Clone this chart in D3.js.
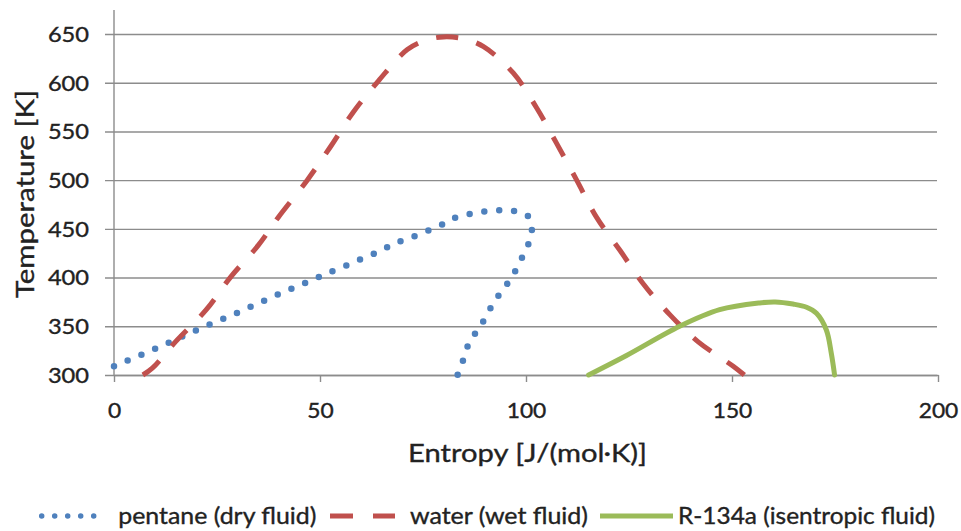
<!DOCTYPE html>
<html>
<head>
<meta charset="utf-8">
<script src="https://cdn.jsdelivr.net/npm/d3@7/dist/d3.min.js"></script>
<style>
  html, body { margin: 0; padding: 0; background: #ffffff; }
  svg { display: block; }
  text { font-family: Lato, "Open Sans", sans-serif; fill: #222222; stroke: #222222; stroke-width: 0.35px; }
</style>
</head>
<body>
<svg id="chart" width="961" height="531"></svg>
<script>
// Saturation domes in the T–s plane: entropy [J/(mol·K)] vs temperature [K]
const pentane = [
  [0, 309], [10, 327], [20, 346], [30, 364], [40, 383], [50, 401], [60, 419],
  [65, 428], [68, 435], [71.5, 440], [75, 446], [79, 453], [82, 460], [86, 465],
  [90, 468], [94, 469], [97.5, 468], [100.5, 463], [101.4, 452], [101.1, 440],
  [100.1, 430], [98.4, 415], [96.5, 400], [94.3, 387], [92.1, 374], [90.2, 359],
  [88.2, 346], [86.1, 332], [84.8, 316], [83.4, 300]
];
const water = [
  [7, 300], [9.3, 307], [14.9, 334], [22.4, 367], [28.2, 400], [35, 433],
  [39.9, 462], [46.9, 500], [52.5, 534], [58.1, 570], [64.2, 602], [71.2, 634],
  [76, 644], [80, 647], [85, 645], [89.7, 637], [96.9, 610], [102.6, 574],
  [107.4, 538], [112.3, 500], [117.1, 462], [122.8, 428], [128.4, 394],
  [134.9, 362], [141.8, 334], [150.3, 309], [153, 300]
];
const r134a = [
  [115.2, 300], [124.4, 320], [137.3, 350], [147, 367], [156.7, 374],
  [160.5, 375], [164.8, 372.8], [168.1, 369.5], [170.5, 363.3], [172.9, 346.2],
  [174.1, 322.3], [174.9, 300]
];
const xTicks = [0, 50, 100, 150, 200];
const yTicks = [300, 350, 400, 450, 500, 550, 600, 650];
const seriesNames = ["pentane (dry fluid)", "water (wet fluid)", "R-134a (isentropic fluid)"];
const xTitle = "Entropy [J/(mol·K)]";
const yTitle = "Temperature [K]";

const svg = d3.select("#chart");
const x = d3.scaleLinear().domain([0, 200]).range([114, 938]);
const y = d3.scaleLinear().domain([300, 650]).range([375, 34]);

const gridColor = "#8c8c8c";

// horizontal gridlines with outward tick stubs, labels on the left
const yAxis = svg.append("g")
  .attr("transform", "translate(105,0)")
  .call(d3.axisLeft(y).tickValues(yTicks).tickSize(-(937 - 105)).tickPadding(16).tickFormat(d3.format("d")));
yAxis.select(".domain").remove();
yAxis.selectAll(".tick line").attr("stroke", gridColor).attr("stroke-width", 1.4);
yAxis.selectAll(".tick text")
  .attr("font-size", 20.5).attr("font-family", "Lato")
  .attr("fill", "#222222")
  .attr("textLength", d => String(d).length * 13.7)
  .attr("lengthAdjust", "spacingAndGlyphs")
  .attr("dy", "0.36em");

// vertical axis line
svg.append("line")
  .attr("x1", x(0)).attr("x2", x(0))
  .attr("y1", 10).attr("y2", y(300))
  .attr("stroke", gridColor).attr("stroke-width", 1.4);

// bottom axis
const xAxis = svg.append("g")
  .attr("transform", `translate(0,${y(300)})`)
  .call(d3.axisBottom(x).tickValues(xTicks).tickSize(7).tickSizeOuter(0).tickFormat(d3.format("d")));
xAxis.select(".domain").attr("stroke", gridColor).attr("stroke-width", 1.4);
xAxis.selectAll(".tick line").attr("stroke", gridColor).attr("stroke-width", 1.4);
xAxis.selectAll(".tick text")
  .attr("font-size", 20.5).attr("font-family", "Lato")
  .attr("fill", "#222222")
  .attr("y", 43).attr("dy", 0)
  .attr("textLength", d => String(d).length * 13.2)
  .attr("lengthAdjust", "spacingAndGlyphs");

// axis titles
svg.append("text")
  .attr("x", 527.5).attr("y", 462)
  .attr("text-anchor", "middle")
  .attr("font-size", 25)
  .attr("textLength", 239).attr("lengthAdjust", "spacingAndGlyphs")
  .text(xTitle);

svg.append("text")
  .attr("transform", "translate(34,194) rotate(-90)")
  .attr("text-anchor", "middle")
  .attr("font-size", 25)
  .attr("textLength", 208).attr("lengthAdjust", "spacingAndGlyphs")
  .text(yTitle);

// series
const line = d3.line()
  .x(d => x(d[0])).y(d => y(d[1]))
  .curve(d3.curveCatmullRom.alpha(0.5));

const styles = [
  { color: "#4f81bd", width: 6.5, cap: "round" },
  { color: "#c0504d", width: 5, cap: "butt" },
  { color: "#9bbb59", width: 5, cap: "round" }
];
const data = [pentane, water, r134a];

data.forEach((d, i) => {
  const s = styles[i];
  const p = svg.append("path")
    .datum(d)
    .attr("d", line)
    .attr("fill", "none")
    .attr("stroke", s.color)
    .attr("stroke-width", s.width)
    .attr("stroke-linecap", s.cap)
    .attr("stroke-linejoin", "round");
  const len = p.node().getTotalLength();
  if (i === 0) {
    // evenly spaced round dots, one at each end of the curve
    const n = Math.round(len / 14.8);
    const period = (len - 0.5) / n;
    p.attr("stroke-dasharray", `0,${period}`);
  } else if (i === 1) {
    // long dashes that start and finish on a dash
    const dash = 22;
    const n = Math.round((len - dash) / 41);
    const period = (len - dash) / n;
    p.attr("stroke-dasharray", `${dash},${period - dash}`);
  }
});

// legend
const legendY = 516;
const legend = [
  { x1: 41.7, x2: 106.7, tx: 118.3, tw: 198, dash: "0,13" },
  { x1: 330, x2: 395, tx: 410, tw: 178, dash: "23,20" },
  { x1: 600, x2: 673, tx: 678, tw: 257, dash: null }
];
legend.forEach((l, i) => {
  const s = styles[i];
  svg.append("line")
    .attr("x1", l.x1).attr("x2", l.x2)
    .attr("y1", legendY).attr("y2", legendY)
    .attr("stroke", s.color)
    .attr("stroke-width", i === 0 ? 5.5 : s.width)
    .attr("stroke-linecap", i === 0 ? "round" : "butt")
    .attr("stroke-dasharray", l.dash);
  svg.append("text")
    .attr("x", l.tx).attr("y", 524)
    .attr("font-size", 22.5)
    .attr("textLength", l.tw).attr("lengthAdjust", "spacingAndGlyphs")
    .text(seriesNames[i]);
});
</script>
</body>
</html>
